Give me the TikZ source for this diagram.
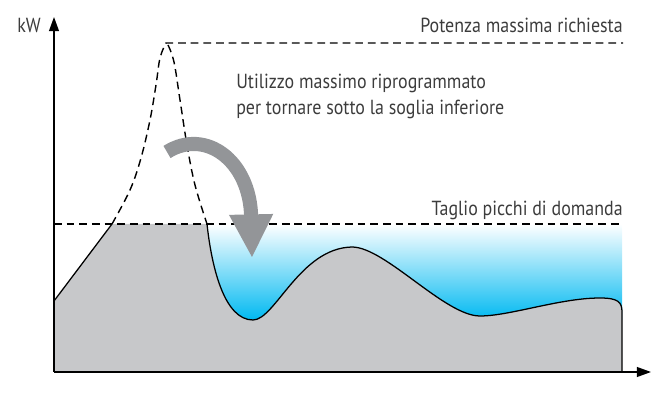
\documentclass[tikz,border=0pt]{standalone}
\usepackage{fontspec}
\setmainfont{PT Sans}[FakeStretch=0.88]
\usepackage{tikz}
\usetikzlibrary{arrows.meta}
\definecolor{areagrey}{HTML}{C7C8CA}
\definecolor{arrowgrey}{HTML}{939598}
\definecolor{lowblue}{HTML}{00B9F1}
\definecolor{labelgrey}{HTML}{3C3C3C}
\tikzset{
  dashline/.style={line width=1pt,dash pattern=on 5.5pt off 3.5pt},
  curveline/.style={line width=0.9pt,line join=round},
  label/.style={inner sep=0pt,text=labelgrey,font=\fontsize{14.5}{19}\selectfont},
}
\newcommand{\loadcurve}{(207,224) .. controls (212,270) and (225,320) .. (253,320)
  .. controls (275,320) and (300,248) .. (352,247)
  .. controls (385,247) and (445,316) .. (480,316)
  .. controls (510,316) and (560,298) .. (600,298)
  .. controls (618,298) and (622,302) .. (622,312)}
\begin{document}
\begin{tikzpicture}[x=0.025cm,y=-0.025cm]
\useasboundingbox (0,0) rectangle (651,405);

\shade[top color=white,bottom color=lowblue] (207,224) rectangle (622,320);
\fill[areagrey] (54,372) -- (54,301) -- (112,224) -- \loadcurve -- (622,372) -- cycle;

\draw[curveline] (54,301) -- (112,224);
\draw[curveline] \loadcurve -- (622,372);

\draw[dashline] plot[smooth,tension=0.6] coordinates {(112,224) (130,190) (141,158) (150,120) (156,85) (160,58) (166,43)} -- (623,43);
\draw[dashline] plot[smooth,tension=0.6] coordinates {(168,45) (174,62) (180,100) (187,145) (195,185) (207,224)};
\draw[dashline] (54,224) -- (623,224);

\draw[line width=1pt,-{Triangle[length=10pt,width=7pt]}] (54,372) -- (651,372);
\draw[line width=1pt,-{Triangle[length=10pt,width=7pt]}] (54,372) -- (54,17);

\draw[arrowgrey,line width=10pt,-{Triangle[length=31pt,width=29pt]}] (167,152) .. controls (205,128) and (250,160) .. (252,258);

\node[label,anchor=base east] (kw) at (41,33) {kW};
\node[label,anchor=base east] (peak) at (623,33) {Potenza massima richiesta};
\node[label,anchor=base east] (cut) at (623,216) {Taglio picchi di domanda};
\node[label,anchor=base west,align=left] (shift) at (236,115) {Utilizzo massimo riprogrammato\\per tornare sotto la soglia inferiore};
\end{tikzpicture}
\end{document}
